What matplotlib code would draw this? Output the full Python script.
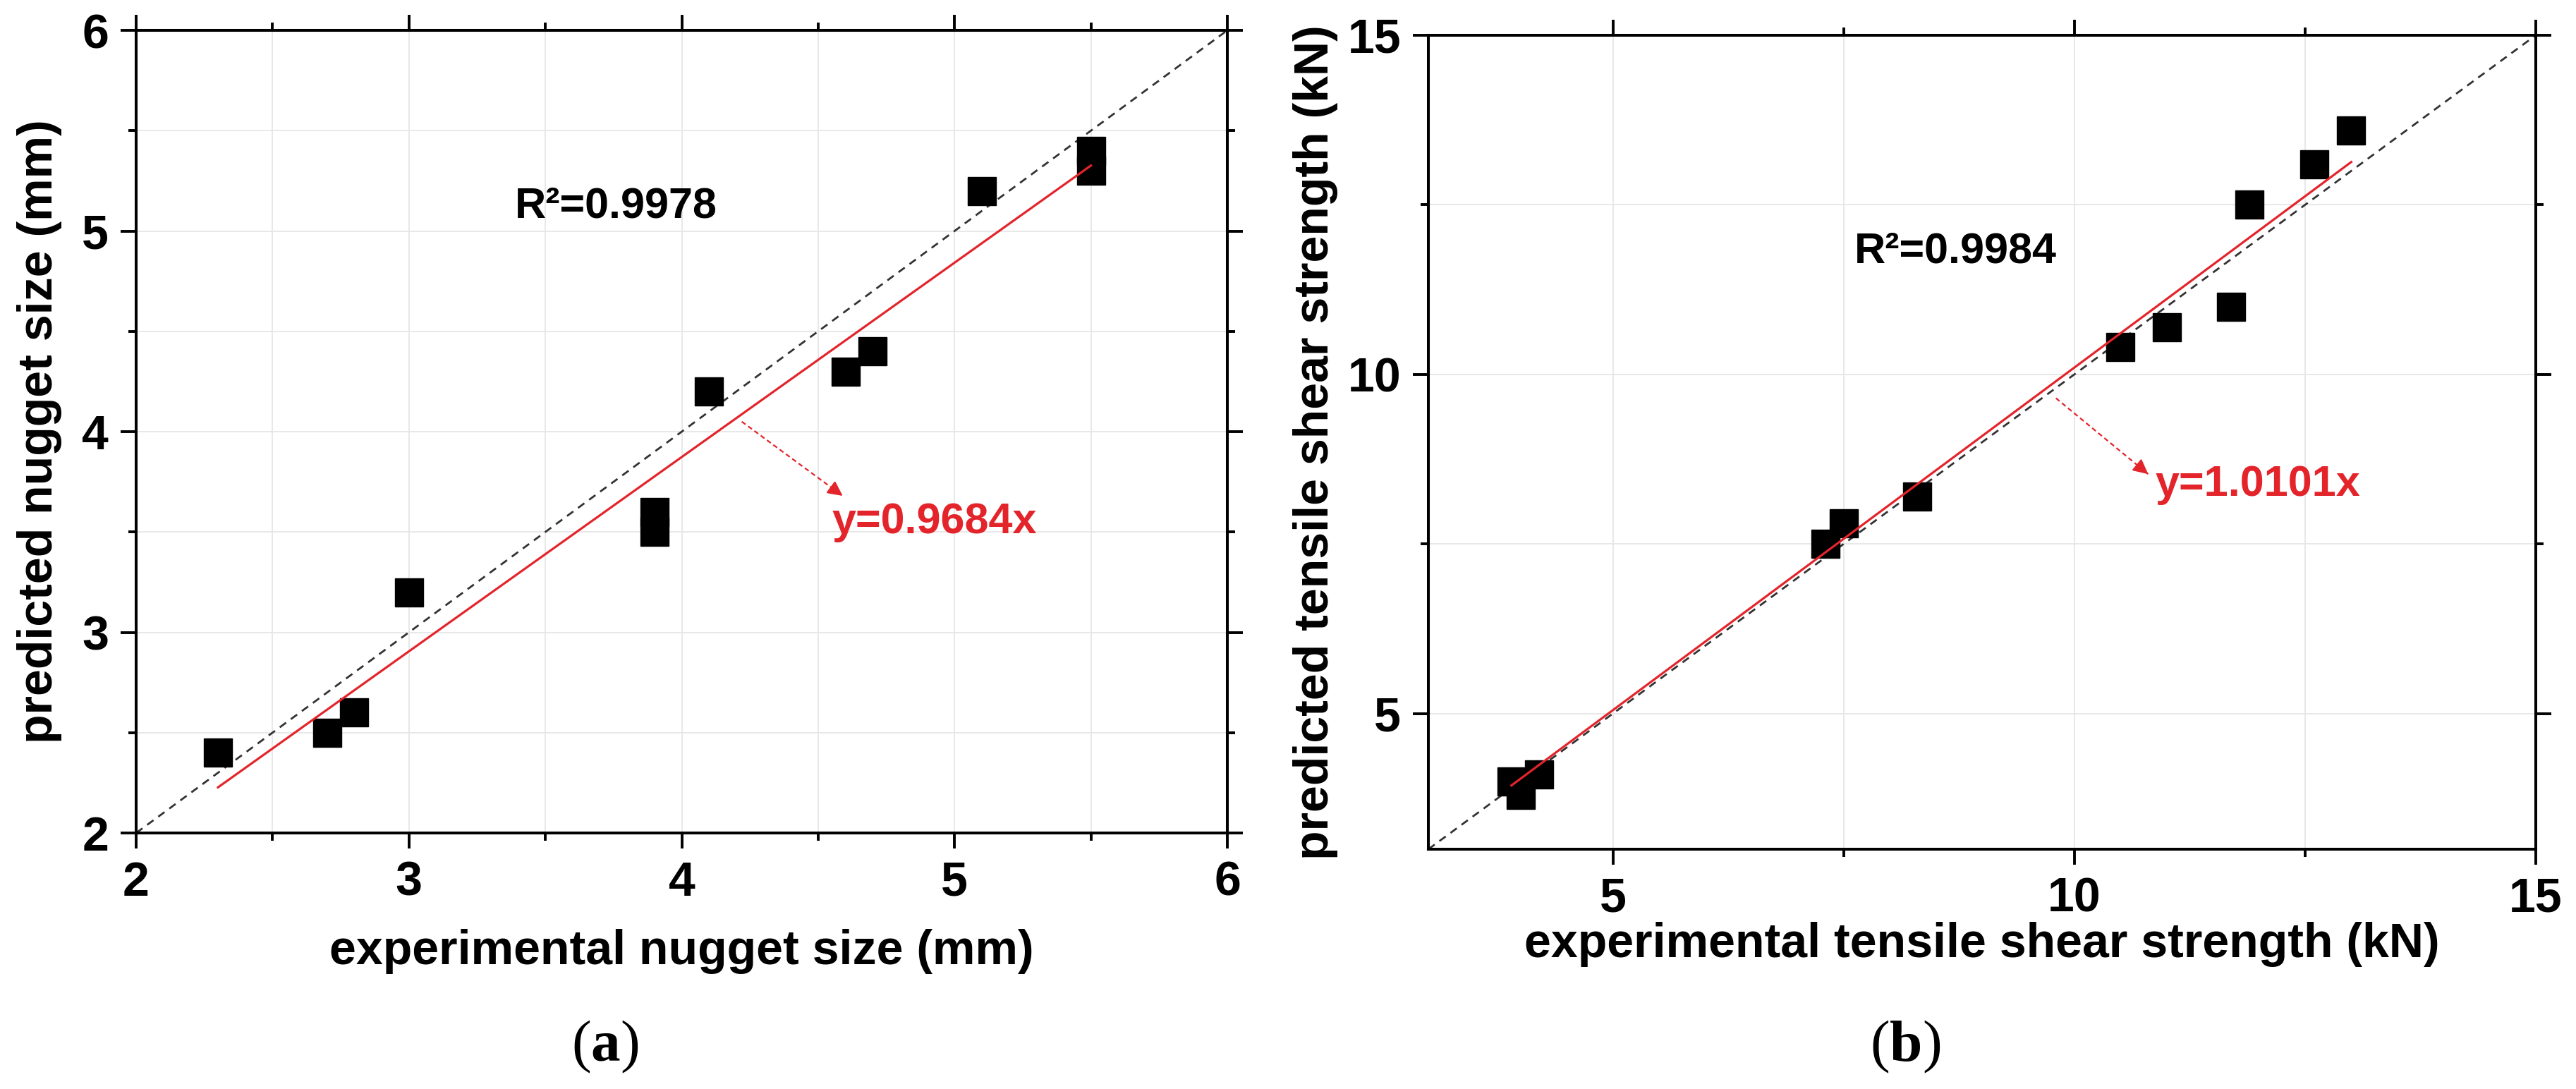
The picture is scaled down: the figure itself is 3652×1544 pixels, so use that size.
import numpy as np
import matplotlib
matplotlib.use("Agg")
import matplotlib.pyplot as plt
from matplotlib.ticker import MultipleLocator

plt.rcParams['font.family'] = ['Liberation Sans', 'DejaVu Sans']
plt.rcParams['font.weight'] = 'bold'
plt.rcParams['axes.labelweight'] = 'bold'
plt.rcParams['mathtext.fontset'] = 'custom'
plt.rcParams['mathtext.rm'] = 'Liberation Serif:normal'
plt.rcParams['mathtext.bf'] = 'Liberation Serif:bold'

# (a) nugget size in mm
nug_exp = [2.3, 2.7, 2.8, 3.0, 3.9, 3.9, 4.1, 4.6, 4.7, 5.1, 5.5, 5.5]
nug_pred = [2.4, 2.5, 2.6, 3.2, 3.6, 3.5, 4.2, 4.3, 4.4, 5.2, 5.4, 5.3]
nug_slope = 0.9684
nug_r2 = "R²=0.9978"

# (b) tensile shear strength in kN
tss_exp = [3.9, 4.0, 4.2, 7.3, 7.5, 8.3, 10.5, 11.0, 11.7, 11.9, 12.6, 13.0]
tss_pred = [4.0, 3.8, 4.1, 7.5, 7.8, 8.2, 10.4, 10.7, 11.0, 12.5, 13.1, 13.6]
tss_slope = 1.0101
tss_r2 = "R²=0.9984"

RED = '#e3242b'

fig = plt.figure(figsize=(36.52, 15.44), dpi=100)
ax1 = fig.add_axes([0.05285, 0.23510, 0.42360, 0.73705])
ax2 = fig.add_axes([0.55449, 0.22021, 0.42990, 0.74741])


def panel(ax, x, y, slope, lim, major, minor):
    ax.set_xlim(lim)
    ax.set_ylim(lim)
    ax.xaxis.set_major_locator(MultipleLocator(major))
    ax.yaxis.set_major_locator(MultipleLocator(major))
    ax.xaxis.set_minor_locator(MultipleLocator(minor))
    ax.yaxis.set_minor_locator(MultipleLocator(minor))
    ax.grid(which='both', color='#e6e6e6', lw=1.3)
    ax.set_axisbelow(True)

    # y = x reference
    ax.plot(lim, lim, ls=(0, (4, 3)), color='#333333', lw=2.0, zorder=1.5)
    ax.plot(x, y, 's', color='black', ms=29, zorder=2)
    xs = np.array([min(x), max(x)])
    ax.plot(xs, slope * xs, color=RED, lw=2.3, zorder=3)

    ax.tick_params(which='both', direction='out', top=True, right=True,
                   width=2.8, labelsize=49, pad=12)
    ax.tick_params(which='major', length=16)
    ax.tick_params(which='minor', length=8)
    for s in ax.spines.values():
        s.set_linewidth(2.9)


def eq_arrow(ax, start, end):
    ax.plot([start[0], end[0]], [start[1], end[1]], ls=(0, (3, 2)),
            color=RED, lw=1.6, zorder=4)
    near = (end[0] - 0.05 * (end[0] - start[0]), end[1] - 0.05 * (end[1] - start[1]))
    ax.annotate('', xy=end, xytext=near,
                arrowprops=dict(arrowstyle='-|>', color=RED, lw=1.6,
                                mutation_scale=32, shrinkA=0, shrinkB=0))


panel(ax1, nug_exp, nug_pred, nug_slope, (2, 6), 1, 0.5)
ax1.set_xlabel('experimental nugget size (mm)', fontsize=49, labelpad=24)
ax1.set_ylabel('predicted nugget size (mm)', fontsize=49, labelpad=20)
ax1.text(3.76, 5.12, nug_r2, fontsize=44, ha='center', va='center')
eq_arrow(ax1, (4.22, 4.05), (4.59, 3.68))
ax1.text(4.55, 3.55, 'y=%.4fx' % nug_slope, fontsize=44, color=RED,
         ha='left', va='center')

panel(ax2, tss_exp, tss_pred, tss_slope, (3, 15), 5, 2.5)
ax2.set_xlabel('experimental tensile shear strength (kN)', fontsize=49, labelpad=0)
ax2.set_ylabel('predicted tensile shear strength (kN)', fontsize=49, labelpad=10)
ax2.text(8.71, 11.81, tss_r2, fontsize=44, ha='center', va='center')
eq_arrow(ax2, (9.8, 9.65), (10.8, 8.53))
ax2.text(10.88, 8.37, 'y=%.4fx' % tss_slope, fontsize=44, color=RED,
         ha='left', va='center')

fig.text(0.2349, 0.0389, r'$(\mathbf{a})$', fontsize=60, ha='center', va='center')
fig.text(0.7396, 0.0389, r'$(\mathbf{b})$', fontsize=60, ha='center', va='center')

fig.savefig('out.png', dpi=100, facecolor='white')
